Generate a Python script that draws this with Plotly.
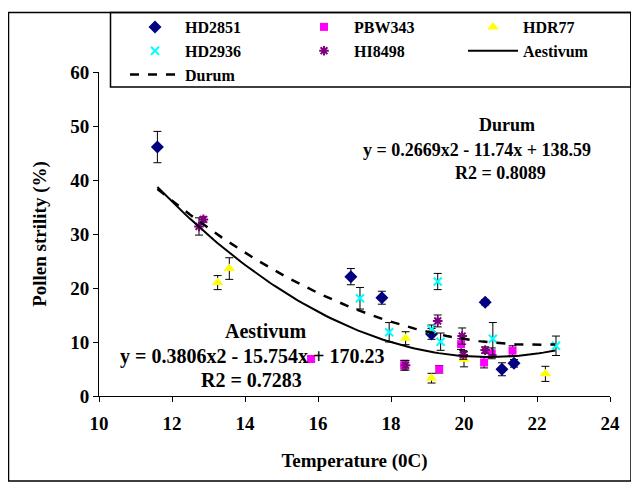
import numpy as np
import plotly.graph_objects as go

# ---- data ----
hd2851_t = [11.60, 16.90, 17.75, 19.11, 20.58, 21.04, 21.37]
hd2851_v = [46.1, 22.1, 18.2, 11.5, 17.35, 4.95, 6.05]
hd2851_e = [2.9, 1.5, 1.2, 1.0, 0.5, 1.2, 0.7]

pbw343_t = [15.81, 18.36, 19.32, 19.92, 20.55, 20.76, 21.33]
pbw343_v = [6.85, 5.7, 4.95, 9.6, 6.2, 7.9, 8.4]
pbw343_e = [0.5, 0.9, 0.7, 1.0, 1.0, 1.0, 0.9]

hdr77_t = [13.25, 13.57, 18.40, 19.11, 20.00, 22.23]
hdr77_v = [21.0, 23.6, 10.7, 3.3, 6.8, 4.1]
hdr77_e = [1.3, 2.0, 1.2, 0.9, 1.4, 1.4]

hd2936_t = [17.15, 17.95, 19.28, 19.11, 19.36, 20.79, 22.52]
hd2936_v = [18.1, 11.8, 21.2, 12.35, 10.06, 10.6, 9.3]
hd2936_e = [2.0, 1.8, 1.5, 0.8, 1.6, 3.0, 1.8]

hi8498_t = [12.74, 12.86, 18.40, 19.28, 19.95, 19.98, 20.58]
hi8498_v = [31.4, 32.7, 5.7, 13.9, 11.1, 7.6, 8.5]
hi8498_e = [1.6, 0.5, 0.9, 1.1, 1.5, 0.8, 0.6]

aestivum_coef = [0.3806, -15.754, 170.23]
durum_coef = [0.2669, -11.74, 138.59]
trend_range = [11.6, 22.5]

x_ticks = [10, 12, 14, 16, 18, 20, 22, 24]
y_ticks = [0, 10, 20, 30, 40, 50, 60]

FONT = "Liberation Serif"

fig = go.Figure()

def add_series(name, t, v, e, symbol, color, size, line_w=0, line_color=None):
    fig.add_trace(go.Scatter(
        x=t, y=v, name=name, mode="markers",
        marker=dict(symbol=symbol, color=color, size=size,
                    line=dict(width=line_w, color=line_color or color)),
        error_y=dict(type="data", array=e, visible=True, color="black",
                     thickness=1, width=4),
    ))

add_series("HD2851", hd2851_t, hd2851_v, hd2851_e, "diamond", "#000080", 10)
add_series("PBW343", pbw343_t, pbw343_v, pbw343_e, "square", "#FF00FF", 8)
add_series("HDR77", hdr77_t, hdr77_v, hdr77_e, "triangle-up", "#FFFF00", 10)
add_series("HD2936", hd2936_t, hd2936_v, hd2936_e, "x-thin-open", "#00FFFF", 8, 2)
add_series("HI8498", hi8498_t, hi8498_v, hi8498_e, "asterisk-open", "#800080", 8, 2)

tx = np.linspace(trend_range[0], trend_range[1], 100)
fig.add_trace(go.Scatter(x=tx, y=np.polyval(aestivum_coef, tx), name="Aestivum",
                         mode="lines", line=dict(color="black", width=2)))
fig.add_trace(go.Scatter(x=tx, y=np.polyval(durum_coef, tx), name="Durum",
                         mode="lines", line=dict(color="black", width=2.5, dash="dash")))

def bold(size):
    return dict(family=FONT, size=size, color="black", weight="bold")

def ann(x, y, text, size):
    fig.add_annotation(x=x, y=y, xref="x", yref="y", text=text, showarrow=False,
                       font=bold(size), xanchor="center", yanchor="middle")

ann(21.18, 50.2, "Durum", 18)
ann(20.35, 45.5, "y = 0.2669x2 - 11.74x + 138.59", 18)
ann(21.0, 41.3, "R2 = 0.8089", 18)
ann(14.55, 12.0, "Aestivum", 20)
ann(14.18, 7.4, "y = 0.3806x2 - 15.754x + 170.23", 20)
ann(14.19, 3.0, "R2 = 0.7283", 20)

# page is offset by 8px; figure coordinates = screen - 8
L, T, PW, PH = 91, 64, 511, 324
def px(xs):
    return (xs - 8 - L) / PW
def py(ys):
    return 1 - (ys - 8 - T) / PH

# outer chart frame
fig.add_shape(type="rect", xref="paper", yref="paper",
              x0=px(8.5), x1=px(631), y0=py(481), y1=py(12.5),
              line=dict(color="black", width=1.5), fillcolor="rgba(0,0,0,0)")
# legend frame
fig.add_shape(type="rect", xref="paper", yref="paper", layer="below",
              x0=px(110.5), x1=px(631), y0=py(87), y1=py(12.5),
              line=dict(color="black", width=1.5), fillcolor="white")

fig.update_layout(
    width=631, height=478,
    margin=dict(l=L, r=631 - L - PW, t=T, b=478 - T - PH, autoexpand=False),
    paper_bgcolor="white", plot_bgcolor="rgba(0,0,0,0)",
    font=bold(19),
    showlegend=True,
    legend=dict(orientation="h", x=px(632), y=py(10), xanchor="right", yanchor="top",
                borderwidth=0, bgcolor="rgba(0,0,0,0)",
                entrywidth=104, font=bold(16), itemwidth=50, tracegroupgap=0),
    xaxis=dict(range=[10, 24], tickvals=x_ticks, showgrid=False, zeroline=False,
               showline=True, linecolor="black", linewidth=1, ticks="outside",
               ticklen=5, tickcolor="black", tickfont=bold(19), ticklabelstandoff=5,
               title=dict(text="Temperature (0C)", font=bold(19), standoff=20)),
    yaxis=dict(range=[0, 60], tickvals=y_ticks, showgrid=False, zeroline=False,
               showline=True, linecolor="black", linewidth=1, ticks="outside",
               ticklen=5, tickcolor="black", tickfont=bold(19),
               title=dict(text="Pollen strility (%)", font=bold(19), standoff=18)),
)

fig.write_html("out.html")
